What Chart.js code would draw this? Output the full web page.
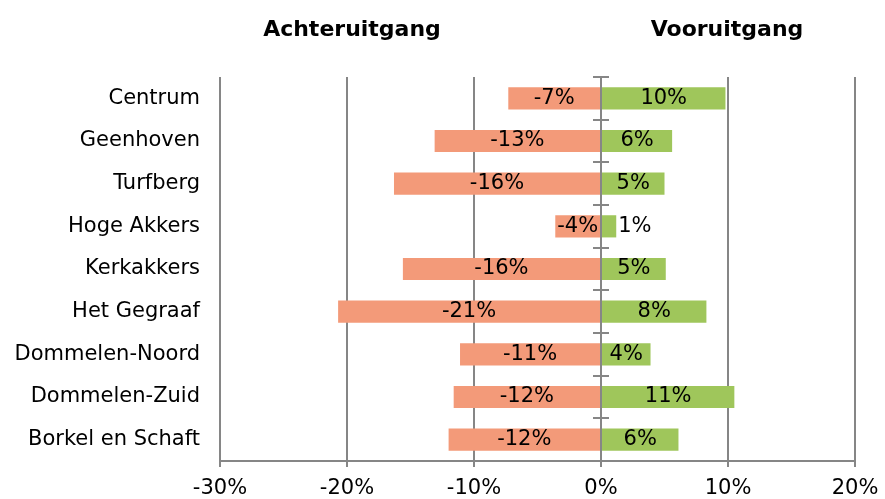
<!DOCTYPE html>
<html>
<head>
<meta charset="utf-8">
<script src="https://cdn.jsdelivr.net/npm/chart.js@4"></script>
<style>
    body { margin: 0; background: #fff; }
</style>
</head>
<body>
<canvas id="grafiek" width="885" height="499"></canvas>
<script>
// Gegevens per wijk
const wijken = ['Centrum', 'Geenhoven', 'Turfberg', 'Hoge Akkers', 'Kerkakkers', 'Het Gegraaf', 'Dommelen-Noord', 'Dommelen-Zuid', 'Borkel en Schaft'];
const achteruitgang = [-7.3, -13.1, -16.3, -3.6, -15.6, -20.7, -11.1, -11.6, -12.0];
const vooruitgang = [9.8, 5.6, 5.0, 1.2, 5.1, 8.3, 3.9, 10.5, 6.1];
const xTicks = [-30, -20, -10, 0, 10, 20];
const titels = ['Achteruitgang', 'Vooruitgang'];

const lijnKleur = '#868686';
const lettertype = 'DejaVu Sans';

// Titels, nul-as met streepjes en labels in de balken
const extraPlugin = {
    id: 'extra',
    afterDatasetsDraw(chart) {
        const ctx = chart.ctx;
        const x = chart.scales.x;
        const area = chart.chartArea;
        const nul = Math.round(x.getPixelForValue(0));

        ctx.save();
        ctx.strokeStyle = lijnKleur;
        ctx.lineWidth = 2;
        ctx.beginPath();
        ctx.moveTo(nul, area.top);
        ctx.lineTo(nul, area.bottom + 6);
        const stap = (area.bottom - area.top) / wijken.length;
        for (let i = 0; i <= wijken.length; i++) {
            const yy = Math.round(area.top + i * stap);
            ctx.moveTo(nul - 8, yy);
            ctx.lineTo(nul + 8, yy);
        }
        ctx.stroke();

        ctx.fillStyle = '#000';
        ctx.font = '21px "' + lettertype + '"';
        ctx.textBaseline = 'middle';
        chart.data.datasets.forEach((ds, di) => {
            chart.getDatasetMeta(di).data.forEach((bar, i) => {
                const v = ds.data[i];
                const tekst = (v < 0 ? '-' : '') + Math.round(Math.abs(v)) + '%';
                const breedte = ctx.measureText(tekst).width;
                const balk = Math.abs(bar.x - bar.base);
                if (v > 0 && breedte > balk + 4) {
                    ctx.textAlign = 'left';
                    ctx.fillText(tekst, bar.x + 2, bar.y);
                } else {
                    ctx.textAlign = 'center';
                    ctx.fillText(tekst, (bar.x + bar.base) / 2, bar.y);
                }
            });
        });

        ctx.font = 'bold 22px "' + lettertype + '"';
        ctx.textAlign = 'center';
        ctx.fillText(titels[0], 352, 30);
        ctx.fillText(titels[1], 727, 30);
        ctx.restore();
    }
};

new Chart(document.getElementById('grafiek'), {
    type: 'bar',
    data: {
        labels: wijken,
        datasets: [
            { label: 'Achteruitgang', data: achteruitgang, backgroundColor: '#F39A79' },
            { label: 'Vooruitgang', data: vooruitgang, backgroundColor: '#9FC65B' }
        ]
    },
    options: {
        indexAxis: 'y',
        responsive: false,
        animation: false,
        categoryPercentage: 1,
        barPercentage: 0.52,
        layout: { padding: { top: 77, right: 30, left: 0, bottom: 0 } },
        plugins: {
            legend: { display: false },
            tooltip: { enabled: false }
        },
        scales: {
            x: {
                stacked: true,
                min: -30,
                max: 20,
                afterBuildTicks: s => { s.ticks = xTicks.map(v => ({ value: v })); },
                afterFit: s => { s.height = 38; s.paddingLeft = 0; s.paddingRight = 0; },
                grid: { color: lijnKleur, lineWidth: 2, tickLength: 6 },
                border: { color: lijnKleur, width: 2 },
                ticks: {
                    color: '#000',
                    padding: 9,
                    font: { family: lettertype, size: 21 },
                    callback: v => v + '%'
                }
            },
            y: {
                stacked: true,
                afterFit: s => { s.width = 220; },
                grid: { display: false },
                border: { display: false },
                ticks: {
                    color: '#000',
                    padding: 12,
                    font: { family: lettertype, size: 21 }
                }
            }
        }
    },
    plugins: [extraPlugin]
});
</script>
</body>
</html>
